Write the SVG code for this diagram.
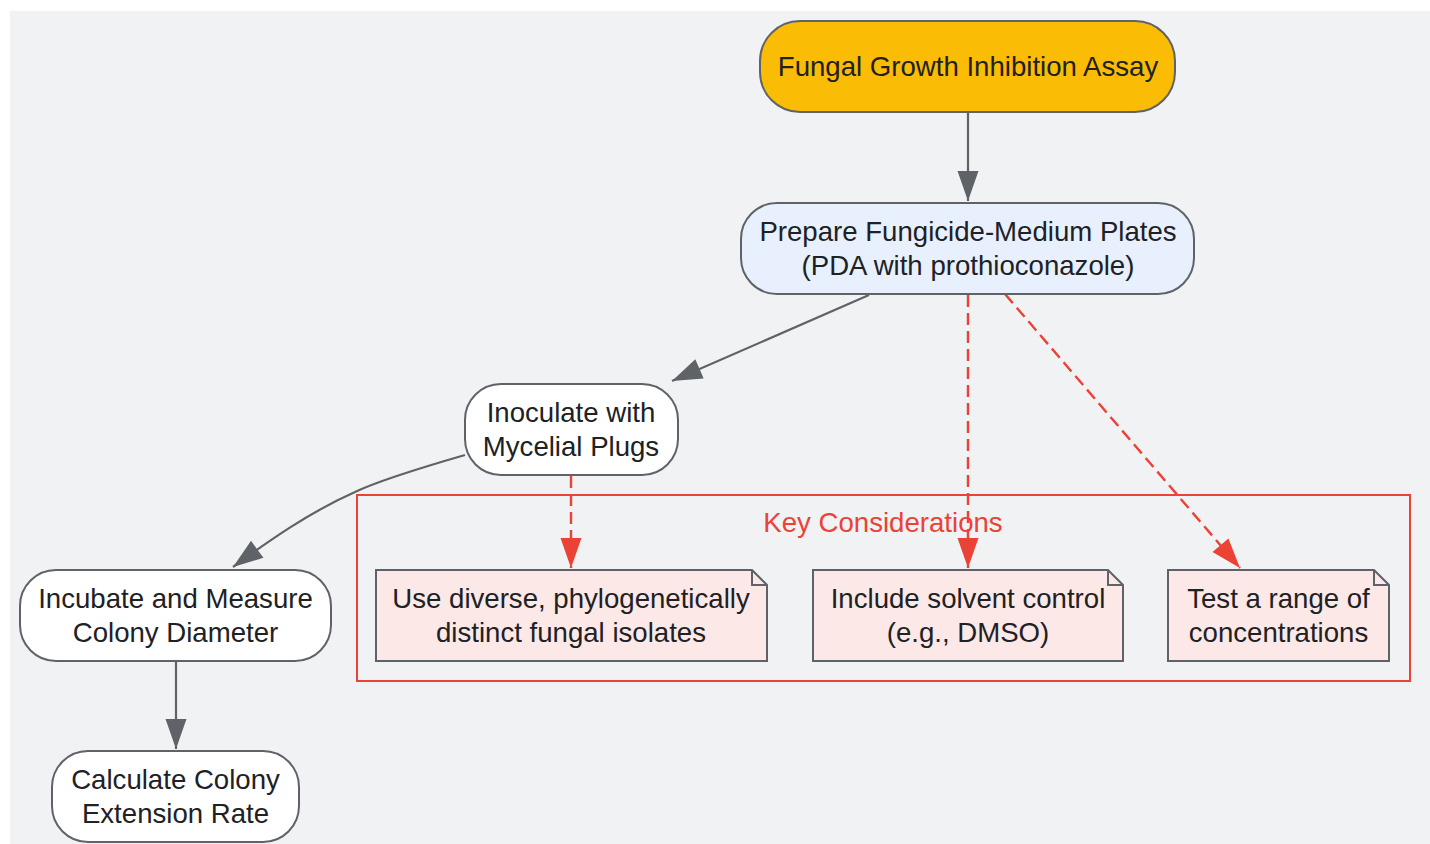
<svg xmlns="http://www.w3.org/2000/svg" width="1430" height="844" viewBox="0 0 1430 844">
<defs>
<style>
.node{stroke:#5f6368;stroke-width:2}
.t{font-family:"Liberation Sans",Arial,sans-serif;font-size:27.6px;fill:#202124;text-anchor:middle}
.e{fill:none;stroke:#5f6368;stroke-width:2.2}
.d{fill:none;stroke:#ea4335;stroke-width:2.4;stroke-dasharray:12,6}
.note{fill:#fce8e6;stroke:#5f6368;stroke-width:2}
</style>
<marker id="ag" viewBox="0 0 10 10" refX="10" refY="5" markerWidth="10" markerHeight="10" markerUnits="userSpaceOnUse" orient="auto" overflow="visible">
<path d="M-20,-5.5 L10,5 L-20,15.5 Z" fill="#5f6368"/>
</marker>
<marker id="ar" viewBox="0 0 10 10" refX="10" refY="5" markerWidth="10" markerHeight="10" markerUnits="userSpaceOnUse" orient="auto" overflow="visible">
<path d="M-20,-5.5 L10,5 L-20,15.5 Z" fill="#ea4335"/>
</marker>
</defs>
<rect x="10" y="11" width="1420" height="833" fill="#f1f2f4"/>
<g id="cluster">
<rect x="357" y="495" width="1053" height="186" fill="none" stroke="#ea4335" stroke-width="2"/>
<text class="t" x="883" y="532" style="fill:#ea4335">Key Considerations</text>
</g>
<g id="edges">
<path class="e" d="M968,112 L968,201" marker-end="url(#ag)"/>
<path class="e" d="M869,295 L672,381" marker-end="url(#ag)"/>
<path class="e" d="M465,455 C420,468 380,480 355,492 C310,512 270,540 233,567" marker-end="url(#ag)"/>
<path class="e" d="M176,661 L176,749" marker-end="url(#ag)"/>
<path class="d" d="M571,476 L571,568" marker-end="url(#ar)"/>
<path class="d" d="M968,295 L968,568" marker-end="url(#ar)"/>
<path class="d" d="M1005,294 L1240,568" marker-end="url(#ar)"/>
</g>
<g id="n-assay">
<rect class="node" x="760" y="21" width="415" height="91" rx="40" fill="#fbbc05"/>
<text class="t" x="968" y="76">Fungal Growth Inhibition Assay</text>
</g>
<g id="n-prepare">
<rect class="node" x="741" y="203" width="453" height="91" rx="36" fill="#e8f0fe"/>
<text class="t" x="968" y="241">Prepare Fungicide-Medium Plates</text>
<text class="t" x="968" y="275">(PDA with prothioconazole)</text>
</g>
<g id="n-inoculate">
<rect class="node" x="465" y="384" width="213" height="91" rx="36" fill="#ffffff"/>
<text class="t" x="571" y="422">Inoculate with</text>
<text class="t" x="571" y="456">Mycelial Plugs</text>
</g>
<g id="n-incubate">
<rect class="node" x="20" y="570" width="311" height="91" rx="36" fill="#ffffff"/>
<text class="t" x="175.500" y="608">Incubate and Measure</text>
<text class="t" x="175.500" y="642">Colony Diameter</text>
</g>
<g id="n-calc">
<rect class="node" x="52" y="751" width="247" height="91" rx="36" fill="#ffffff"/>
<text class="t" x="175.500" y="789">Calculate Colony</text>
<text class="t" x="175.500" y="823">Extension Rate</text>
</g>
<g id="n-note1">
<path class="note" d="M376,570 L752,570 L767,585 L767,661 L376,661 Z"/>
<path d="M752,570 L752,585 L767,585" fill="none" stroke="#5f6368" stroke-width="2"/>
<text class="t" x="571" y="608">Use diverse, phylogenetically</text>
<text class="t" x="571" y="642">distinct fungal isolates</text>
</g>
<g id="n-note2">
<path class="note" d="M813,570 L1108,570 L1123,585 L1123,661 L813,661 Z"/>
<path d="M1108,570 L1108,585 L1123,585" fill="none" stroke="#5f6368" stroke-width="2"/>
<text class="t" x="968" y="608">Include solvent control</text>
<text class="t" x="968" y="642">(e.g., DMSO)</text>
</g>
<g id="n-note3">
<path class="note" d="M1168,570 L1374,570 L1389,585 L1389,661 L1168,661 Z"/>
<path d="M1374,570 L1374,585 L1389,585" fill="none" stroke="#5f6368" stroke-width="2"/>
<text class="t" x="1278.500" y="608">Test a range of</text>
<text class="t" x="1278.500" y="642">concentrations</text>
</g>
</svg>
